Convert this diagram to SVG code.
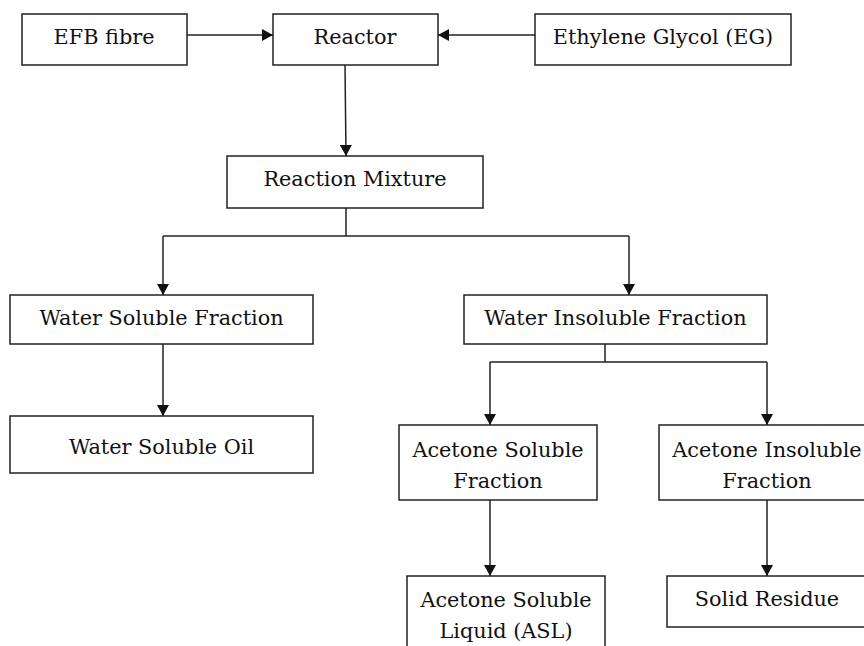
<svg xmlns="http://www.w3.org/2000/svg" width="864" height="646" viewBox="0 0 864 646">
<style>
.box{fill:#fff;stroke:#222;stroke-width:1.5}
.t{font-family:'DejaVu Serif','Liberation Serif',serif;font-size:20.8px;fill:#111;text-anchor:middle}
.c{fill:none;stroke:#222;stroke-width:1.5}
</style>
<defs>
<marker id="ah" viewBox="0 0 11 12" refX="11" refY="6" markerWidth="11" markerHeight="12" markerUnits="userSpaceOnUse" orient="auto">
<path d="M0,0 L11,6 L0,12 Z" fill="#111"/>
</marker>
</defs>
<rect width="864" height="646" fill="#fff"/>
<g id="connectors">
<line class="c" x1="187" y1="35" x2="273" y2="35" marker-end="url(#ah)"/>
<line class="c" x1="535" y1="35" x2="438" y2="35" marker-end="url(#ah)"/>
<line class="c" x1="345" y1="65" x2="346" y2="156" marker-end="url(#ah)"/>
<polyline class="c" points="346,208 346,236"/>
<polyline class="c" points="163,236 629,236"/>
<line class="c" x1="163" y1="236" x2="163" y2="295" marker-end="url(#ah)"/>
<line class="c" x1="629" y1="236" x2="629" y2="295" marker-end="url(#ah)"/>
<line class="c" x1="163" y1="344" x2="163" y2="416" marker-end="url(#ah)"/>
<polyline class="c" points="605,344 605,362"/>
<polyline class="c" points="490,362 767,362"/>
<line class="c" x1="490" y1="362" x2="490" y2="425" marker-end="url(#ah)"/>
<line class="c" x1="767" y1="362" x2="767" y2="425" marker-end="url(#ah)"/>
<line class="c" x1="490" y1="500" x2="490" y2="576" marker-end="url(#ah)"/>
<line class="c" x1="767" y1="500" x2="767" y2="576" marker-end="url(#ah)"/>
</g>
<g id="efb"><rect class="box" x="22" y="14" width="165" height="51"/><text class="t" x="104" y="44">EFB fibre</text></g>
<g id="reactor"><rect class="box" x="273" y="14" width="165" height="51"/><text class="t" x="355" y="44">Reactor</text></g>
<g id="eg"><rect class="box" x="535" y="14" width="256" height="51"/><text class="t" x="663" y="44">Ethylene Glycol (EG)</text></g>
<g id="mixture"><rect class="box" x="227" y="156" width="256" height="52"/><text class="t" x="355" y="186">Reaction Mixture</text></g>
<g id="wsf"><rect class="box" x="10" y="295" width="303" height="49"/><text class="t" x="161.5" y="325">Water Soluble Fraction</text></g>
<g id="wif"><rect class="box" x="464" y="295" width="303" height="49"/><text class="t" x="615.5" y="325">Water Insoluble Fraction</text></g>
<g id="wso"><rect class="box" x="10" y="416" width="303" height="57"/><text class="t" x="161.5" y="454">Water Soluble Oil</text></g>
<g id="asf"><rect class="box" x="399" y="425" width="198" height="75"/><text class="t" x="498" y="457">Acetone Soluble</text><text class="t" x="498" y="488">Fraction</text></g>
<g id="aif"><rect class="box" x="659" y="425" width="216" height="75"/><text class="t" x="767" y="457">Acetone Insoluble</text><text class="t" x="767" y="488">Fraction</text></g>
<g id="asl"><rect class="box" x="407" y="576" width="198" height="80"/><text class="t" x="506" y="607">Acetone Soluble</text><text class="t" x="506" y="638">Liquid (ASL)</text></g>
<g id="residue"><rect class="box" x="667" y="576" width="210" height="51"/><text class="t" x="767" y="606">Solid Residue</text></g>
</svg>
